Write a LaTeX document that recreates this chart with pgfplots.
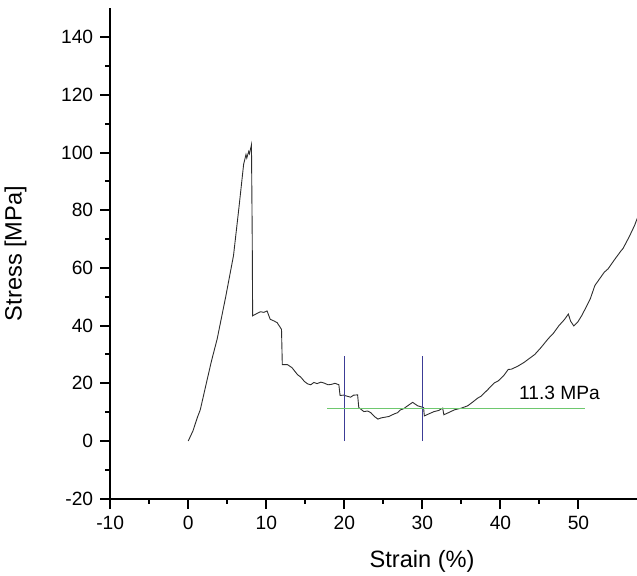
\documentclass[border=0pt]{standalone}
\usepackage{fontspec}
\setmainfont{Liberation Sans}
\usepackage{pgfplots}
\pgfplotsset{compat=1.18}
\definecolor{curvegray}{RGB}{45,45,45}
\definecolor{markblue}{RGB}{60,60,150}
\definecolor{levelgreen}{RGB}{110,200,110}

\begin{document}
\begin{tikzpicture}
\begin{axis}[
  scale only axis,
  width=263.4pt, height=245.2pt,
  xmin=-10, xmax=57.5,
  ymin=-20, ymax=150,
  axis x line=bottom, axis y line=left,
  axis line style={-, line width=1pt},
  xtick={-10,0,...,50}, ytick={-20,0,...,140},
  minor x tick num=1, minor y tick num=1,
  tick align=outside,
  major tick length=5pt, minor tick length=2.5pt,
  every tick/.style={line width=1pt, black},
  tick label style={font=\fontsize{9.6}{11}\selectfont},
  /pgf/number format/assume math mode=true,
  xlabel={Strain (\%)}, ylabel={Stress [MPa]},
  label style={font=\fontsize{11.8}{14}\selectfont},
  xlabel style={at={(axis description cs:0.592,-0.1405)}, anchor=base},
  ylabel style={at={(axis description cs:-0.168,0.5)}, anchor=base, rotate=0},
]
% stress-strain curve
\addplot[curvegray, line width=0.45pt] coordinates {
(0,0) (0.6,3.5) (1.2,8.4) (1.54,10.8) (2.4,21) (3.0,28) (3.7,35.3)
(4.8,50) (5.8,64.3) (6.5,81) (7.1,96) (7.4,99.3) (7.5,98.1) (7.75,100.4)
(7.85,99.6) (8.1,102.7) (8.2,70) (8.25,43.4) (8.8,44.2) (9.25,44.8)
(9.7,44.6) (10.1,45.1) (10.5,42.2) (11.0,41.6) (11.4,41) (11.95,38.7)
(12.05,26.5) (12.7,26.5) (13.3,25.4) (14,23) (14.4,22.2) (14.9,20.6)
(15.3,19.8) (15.7,19.5) (16.1,20.3) (16.5,19.9) (17.0,20.4) (17.4,20.1)
(17.9,19.5) (18.3,19.6) (18.8,20) (19.3,19.5) (19.45,15.8) (19.9,15.9)
(20.4,15.5) (20.8,15.2) (21.2,15.9) (21.7,16) (21.85,11.6) (22.5,10.2)
(23.0,10.4) (23.4,9.8) (23.9,8.4) (24.3,7.6) (24.7,8.0) (25.1,8.2)
(25.7,8.5) (26.4,9.4) (26.8,9.8) (27.2,10.8) (27.6,11.2) (28.0,12)
(28.75,13.4) (29.4,12.2) (30.15,11.6) (30.25,8.7) (30.9,9.5) (31.5,10.2)
(32.1,10.6) (32.6,11.4) (32.75,9.1) (33.4,9.9) (34.1,10.8) (35.0,11.4)
(35.8,12.2) (36.5,13.6) (37.1,14.9) (37.5,15.5) (38.3,17.6) (39.2,20.1)
(39.7,20.8) (40.4,22.6) (41,24.8) (41.4,24.9) (41.8,25.4) (42.2,25.9)
(43.0,27.2) (43.7,28.6) (44.4,30) (45.2,32.4) (46.1,35.4) (46.8,37.4)
(47.5,40) (48.2,42.1) (48.7,44) (49.0,41.5) (49.4,39.9) (49.9,41.2)
(50.4,43.4) (51.0,46.5) (51.5,49.2) (52.1,53.9) (52.7,56.2) (53.3,58.5)
(53.8,59.7) (54.6,62.8) (55.5,66.1) (55.7,66.7) (56.5,70.8) (57.2,74.8)
(58.2,82)
};
% markers at 20 % and 30 % strain
\addplot[markblue, line width=0.5pt] coordinates {(20,0) (20,29.5)};
\addplot[markblue, line width=0.5pt] coordinates {(30,0) (30,29.5)};
% mean plateau stress
\addplot[levelgreen, line width=0.5pt] coordinates {(17.8,11.3) (50.8,11.3)};
\node[anchor=base west, inner sep=0pt, font=\fontsize{9.6}{11}\selectfont]
  at (axis cs:42.35,14.5) {11.3 MPa};
\end{axis}
\pgfresetboundingbox
\path ([xshift=-55.1pt, yshift=-38.2pt]current axis.south west)
  rectangle ([yshift=4.15pt]current axis.north east);
\end{tikzpicture}
\end{document}
